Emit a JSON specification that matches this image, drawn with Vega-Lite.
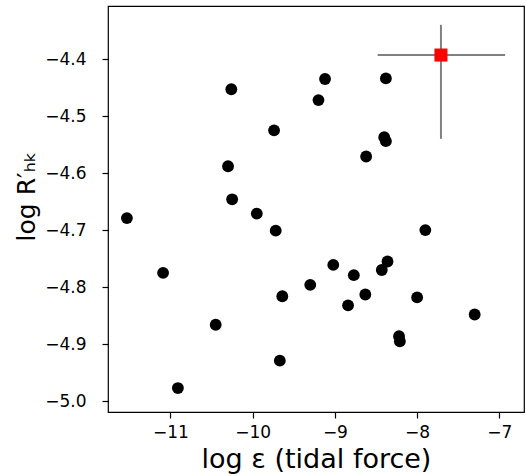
{
  "$schema": "https://vega.github.io/schema/vega-lite/v6.json",
  "width": 416,
  "height": 406,
  "autosize": {"type": "none"},
  "padding": {"left": 108, "top": 6, "right": 2, "bottom": 64},
  "background": "white",
  "config": {
    "view": {"stroke": "#000000", "strokeWidth": 1.2},
    "font": "DejaVu Sans",
    "axis": {
      "grid": false,
      "domain": false,
      "ticks": true,
      "tickColor": "#000000",
      "tickSize": 6,
      "tickWidth": 1.2,
      "labelFont": "DejaVu Sans",
      "labelFontSize": 17,
      "labelColor": "#000000",
      "titleFont": "DejaVu Sans",
      "titleFontSize": 27,
      "titleFontWeight": "normal",
      "titleColor": "#000000"
    }
  },
  "datasets": {
    "stars": [
      {"eps": -11.53, "rhk": -4.679},
      {"eps": -11.09, "rhk": -4.775},
      {"eps": -10.91, "rhk": -4.977},
      {"eps": -10.45, "rhk": -4.866},
      {"eps": -10.26, "rhk": -4.453},
      {"eps": -10.30, "rhk": -4.588},
      {"eps": -10.25, "rhk": -4.646},
      {"eps": -9.95, "rhk": -4.671},
      {"eps": -9.74, "rhk": -4.525},
      {"eps": -9.72, "rhk": -4.701},
      {"eps": -9.67, "rhk": -4.929},
      {"eps": -9.64, "rhk": -4.816},
      {"eps": -9.30, "rhk": -4.796},
      {"eps": -9.20, "rhk": -4.472},
      {"eps": -9.12, "rhk": -4.435},
      {"eps": -9.02, "rhk": -4.761},
      {"eps": -8.84, "rhk": -4.832},
      {"eps": -8.77, "rhk": -4.779},
      {"eps": -8.63, "rhk": -4.813},
      {"eps": -8.62, "rhk": -4.571},
      {"eps": -8.43, "rhk": -4.770},
      {"eps": -8.36, "rhk": -4.755},
      {"eps": -8.40, "rhk": -4.537},
      {"eps": -8.38, "rhk": -4.544},
      {"eps": -8.38, "rhk": -4.434},
      {"eps": -8.22, "rhk": -4.886},
      {"eps": -8.21, "rhk": -4.895},
      {"eps": -8.00, "rhk": -4.818},
      {"eps": -7.90, "rhk": -4.700},
      {"eps": -7.30, "rhk": -4.848}
    ],
    "target": [
      {"eps": -7.71, "rhk": -4.393, "eps_lo": -8.48, "eps_hi": -6.93, "rhk_lo": -4.540, "rhk_hi": -4.340}
    ]
  },
  "layer": [
    {
      "data": {"name": "stars"},
      "mark": {"type": "circle", "size": 140, "color": "#000000", "opacity": 1},
      "encoding": {
        "x": {
          "field": "eps", "type": "quantitative",
          "scale": {"domain": [-11.76, -6.70], "nice": false, "zero": false},
          "axis": {"values": [-11, -10, -9, -8, -7], "format": "d", "title": "log ε (tidal force)", "labelPadding": 6, "titlePadding": 6, "labelExpr": "replace(datum.label, '-', '−')"}
        },
        "y": {
          "field": "rhk", "type": "quantitative",
          "scale": {"domain": [-5.019, -4.307], "nice": false, "zero": false},
          "axis": {"values": [-5.0, -4.9, -4.8, -4.7, -4.6, -4.5, -4.4], "format": ".1f", "title": "log R′ₕₖ", "titleFontSize": 25, "titleY": 190, "labelPadding": 16, "titlePadding": 5, "labelExpr": "replace(datum.label, '-', '−')"}
        }
      }
    },
    {
      "data": {"name": "target"},
      "mark": {"type": "rule", "color": "#808080", "strokeWidth": 2},
      "encoding": {
        "x": {"field": "eps_lo", "type": "quantitative"},
        "x2": {"field": "eps_hi"},
        "y": {"field": "rhk", "type": "quantitative"}
      }
    },
    {
      "data": {"name": "target"},
      "mark": {"type": "rule", "color": "#808080", "strokeWidth": 2},
      "encoding": {
        "x": {"field": "eps", "type": "quantitative"},
        "y": {"field": "rhk_lo", "type": "quantitative"},
        "y2": {"field": "rhk_hi"}
      }
    },
    {
      "data": {"name": "target"},
      "mark": {"type": "square", "size": 170, "color": "#ff0000", "opacity": 1},
      "encoding": {
        "x": {"field": "eps", "type": "quantitative"},
        "y": {"field": "rhk", "type": "quantitative"}
      }
    }
  ]
}
